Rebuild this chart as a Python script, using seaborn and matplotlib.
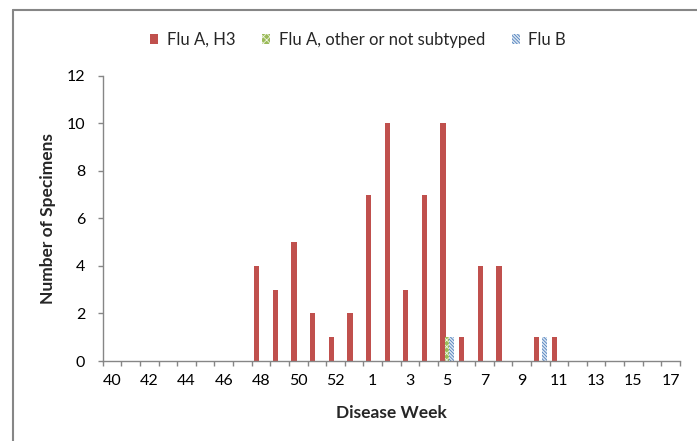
import matplotlib
matplotlib.use("Agg")
import matplotlib.pyplot as plt
from matplotlib.patches import Patch
from matplotlib.lines import Line2D
import seaborn as sns
import numpy as np
import pandas as pd

weeks = ["40", "41", "42", "43", "44", "45", "46", "47", "48", "49", "50", "51", "52", "53",
         "1", "2", "3", "4", "5", "6", "7", "8", "9", "10", "11", "12", "13", "14", "15", "16", "17"]
flu_a_h3 = [0, 0, 0, 0, 0, 0, 0, 0, 4, 3, 5, 2, 1, 2,
            7, 10, 3, 7, 10, 1, 4, 4, 0, 1, 1, 0, 0, 0, 0, 0, 0]
flu_a_other = [0, 0, 0, 0, 0, 0, 0, 0, 0, 0, 0, 0, 0, 0,
               0, 0, 0, 0, 1, 0, 0, 0, 0, 0, 0, 0, 0, 0, 0, 0, 0]
flu_b = [0, 0, 0, 0, 0, 0, 0, 0, 0, 0, 0, 0, 0, 0,
         0, 0, 0, 0, 1, 0, 0, 0, 0, 1, 0, 0, 0, 0, 0, 0, 0]
series = ["Flu A, H3", "Flu A, other or not subtyped", "Flu B"]

df = pd.DataFrame({
    "week": weeks * 3,
    "type": [series[0]] * 31 + [series[1]] * 31 + [series[2]] * 31,
    "count": flu_a_h3 + flu_a_other + flu_b,
})

sns.set_style("white")
plt.rcParams["font.family"] = ["Lato", "DejaVu Sans"]
plt.rcParams["hatch.linewidth"] = 0.6

red = "#C0504D"
green = "#9BBB59"
blue = "#4F81BD"
grey = "#868686"
green_hatch = "x" * 5
blue_hatch = "\\" * 10

fig, ax = plt.subplots(figsize=(6.97, 4.41), dpi=100)
fig.subplots_adjust(left=0.1473, right=0.9756, bottom=0.1814, top=0.8277)

sns.barplot(data=df, x="week", y="count", hue="type", order=weeks, hue_order=series,
            palette=[red, green, blue], width=0.67, saturation=1, legend=False, ax=ax)

# narrow bars, slight overlap like the original
for cont in ax.containers:
    for p in cont.patches:
        c = p.get_x() + p.get_width() / 2
        p.set_width(0.28)
        p.set_x(c - 0.14)
        p.set_linewidth(0)
for p in ax.containers[1].patches:
    p.set_facecolor(green)
    p.set_edgecolor("#EEF3E2")
    p.set_hatch(green_hatch)
    p.set_linewidth(0)
for p in ax.containers[2].patches:
    p.set_facecolor("#DCE6F2")
    p.set_edgecolor(blue)
    p.set_hatch(blue_hatch)
    p.set_linewidth(0)

ax.set_xlim(-0.5, 30.5)
ax.set_ylim(0, 12)
ax.set_yticks(range(0, 13, 2))
ax.set_xticks(range(0, 31, 2))
ax.set_xticklabels(weeks[::2])
ax.set_xticks(np.arange(-0.5, 31, 1), minor=True)
ax.tick_params(axis="x", which="major", length=0, pad=9, labelsize=11.5, colors="black")
ax.tick_params(axis="x", which="minor", length=3.6, width=1, color=grey, direction="out")
ax.tick_params(axis="y", length=3.6, width=1, color=grey, direction="out", pad=9,
               labelsize=11.5, labelcolor="black")
ax.tick_params(bottom=True, left=True, which="both")

for s in ["top", "right"]:
    ax.spines[s].set_visible(False)
for s in ["left", "bottom"]:
    ax.spines[s].set_color(grey)
    ax.spines[s].set_linewidth(1)

ax.set_xlabel("Disease Week", fontsize=12.5, fontweight="bold", va="center")
ax.xaxis.set_label_coords(0.5, -0.182)
ax.set_ylabel("Number of Specimens", fontsize=12.5, fontweight="bold", va="center")
ax.yaxis.set_label_coords(-0.095, 0.5)

handles = [
    Patch(facecolor=red, linewidth=0),
    Patch(facecolor=green, edgecolor="#EEF3E2", hatch=green_hatch, linewidth=0),
    Patch(facecolor="#DCE6F2", edgecolor=blue, hatch=blue_hatch, linewidth=0),
]
fig.legend(handles, series, loc="center", bbox_to_anchor=(358 / 697, 1 - 40 / 441), ncol=3,
           frameon=False, fontsize=12, handlelength=0.5, handleheight=0.5,
           handletextpad=0.5, columnspacing=1.6)

# chart-area border (only top and left edges are visible in the crop)
fig.add_artist(Line2D([13 / 697, 13 / 697], [0, 1 - 10 / 441], color=grey, linewidth=1.5,
                      transform=fig.transFigure))
fig.add_artist(Line2D([13 / 697, 1], [1 - 10 / 441, 1 - 10 / 441], color=grey, linewidth=1.5,
                      transform=fig.transFigure))

fig.savefig("out.png", dpi=100)
